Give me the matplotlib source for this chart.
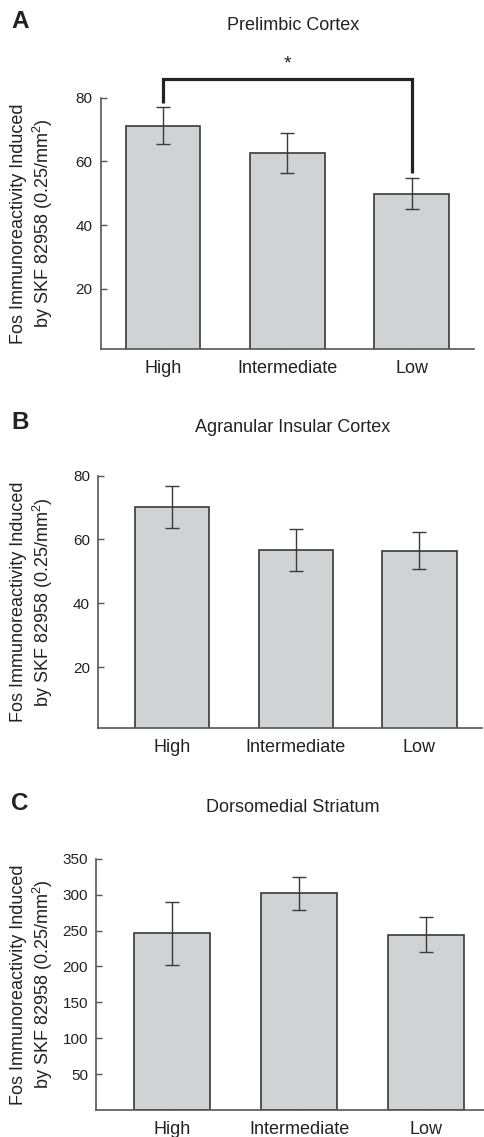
import matplotlib
matplotlib.use("Agg")
import matplotlib.pyplot as plt

plt.rcParams['font.family'] = ['Liberation Sans', 'DejaVu Sans']
plt.rcParams['mathtext.default'] = 'regular'

groups = ["High", "Intermediate", "Low"]

pl_means = [71.2, 62.6, 49.9]
pl_err = [5.8, 6.2, 4.9]

ai_means = [70.1, 56.7, 56.5]
ai_err = [6.6, 6.7, 5.9]

dms_means = [246.0, 301.8, 243.9]
dms_err = [44.0, 22.6, 24.3]

titles = ["Prelimbic Cortex", "Agranular Insular Cortex", "Dorsomedial Striatum"]
letters = ["A", "B", "C"]
yticks_ab = [20, 40, 60, 80]
yticks_c = [50, 100, 150, 200, 250, 300, 350]

W, H = 484, 1137
fig = plt.figure(figsize=(W / 100, H / 100), dpi=100)

def rect(l, t, r, b):
    return [l / W, 1 - b / H, (r - l) / W, (b - t) / H]

panels = [
    dict(rect=rect(100.7, 97.7, 474, 349.3), means=pl_means, err=pl_err, ylim=(1, 80),
         yt=yticks_ab, xlim=(-0.5, 2.5), title_y=30, letter_y=27.7, lab_cy=223.5),
    dict(rect=rect(98.3, 475.7, 482, 727.7), means=ai_means, err=ai_err, ylim=(1, 80),
         yt=yticks_ab, xlim=(-0.6, 2.506), title_y=431.7, letter_y=429.3, lab_cy=601.7),
    dict(rect=rect(96.3, 858.7, 484, 1110), means=dms_means, err=dms_err, ylim=(0, 350),
         yt=yticks_c, xlim=(-0.6, 2.46), title_y=812.3, letter_y=810, lab_cy=984.3),
]

spine_c = '#555555'
txt_c = '#222222'
axes = []
for i, p in enumerate(panels):
    ax = fig.add_axes(p['rect'])
    axes.append(ax)
    x = list(range(len(groups)))
    ax.bar(x, p['means'], width=0.6, color='#d1d2d4', edgecolor='#3a3a3a', linewidth=1.2, zorder=2)
    ax.errorbar(x, p['means'], yerr=p['err'], fmt='none', ecolor='#3a3a3a', elinewidth=1.0,
                capsize=4.8, capthick=1.0, zorder=3)
    ax.set_xlim(*p['xlim'])
    ax.set_ylim(*p['ylim'])
    ax.set_yticks(p['yt'])
    ax.set_yticklabels([str(v) for v in p['yt']])
    ax.set_xticks(x)
    ax.set_xticklabels(groups)
    for s in ['top', 'right']:
        ax.spines[s].set_visible(False)
    for s in ['left', 'bottom']:
        ax.spines[s].set_color(spine_c)
        ax.spines[s].set_linewidth(1.2)
    ax.tick_params(axis='y', direction='in', length=4.5, width=1.0, color=spine_c,
                   labelsize=11, labelcolor=txt_c, pad=6)
    ax.tick_params(axis='x', direction='in', length=2, width=0.8, color='#777777',
                   labelsize=13, labelcolor=txt_c, pad=8)
    fig.text(292.7 / W, 1 - p['title_y'] / H, titles[i], ha='center', va='baseline',
             fontsize=13, color=txt_c)
    fig.text(11.5 / W, 1 - p['letter_y'] / H, letters[i], ha='left', va='baseline',
             fontsize=17.5, fontweight='bold', color=txt_c)
    fig.text(32.5 / W, 1 - p['lab_cy'] / H,
             "Fos Immunoreactivity Induced\nby SKF 82958 (0.25/mm$^{2}$)",
             rotation=90, ha='center', va='center', fontsize=13, color=txt_c,
             linespacing=1.25, multialignment='center')

# significance bracket in panel A (High vs Low)
ax = axes[0]
br_top = 85.8
ax.plot([0, 0, 2, 2], [78.4, br_top, br_top, 56.2], color='#222222', linewidth=2.3,
        clip_on=False, solid_joinstyle='miter', solid_capstyle='butt', zorder=4)
ax.text(1, 90.5, "*", ha='center', va='center', fontsize=14, color=txt_c, clip_on=False)

fig.savefig("out.png", dpi=100)
